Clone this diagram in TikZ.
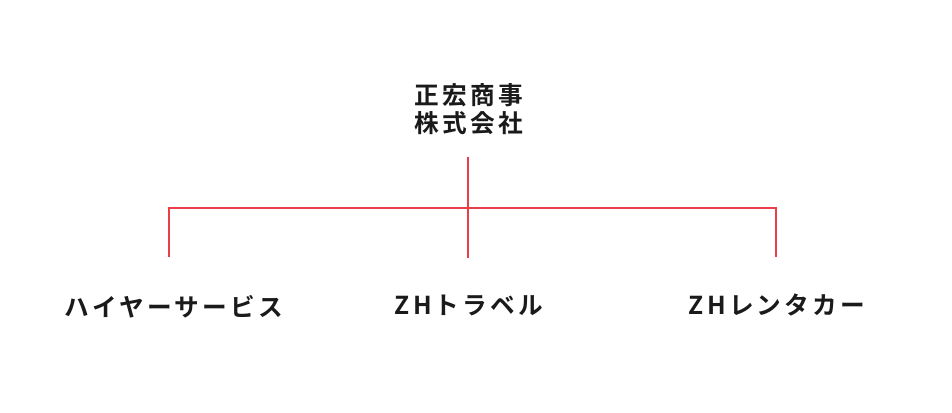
\documentclass[tikz,border=0pt]{standalone}
\usepackage{fontspec}
\setmainfont{Noto Sans CJK JP}[BoldFont={* Bold}]
\newfontfamily\jpfont{Noto Sans CJK JP Bold}[LetterSpace=13]
\definecolor{linered}{RGB}{236,62,72}
\definecolor{txt}{RGB}{26,26,26}
\begin{document}
\begin{tikzpicture}[x=0.75pt,y=-0.75pt]
\tikzset{
  lbl/.style={inner sep=0pt, text=txt, font=\jpfont\fontsize{18.5}{20.5}\selectfont, align=center},
  conn/.style={draw=linered, line width=1.5pt}
}
\useasboundingbox (0,0) rectangle (952,413);
\node[lbl] (top) at (469,109) {正宏商事\\株式会社};
\node[lbl] (a) at (174,307) {ハイヤーサービス};
\node[lbl] (b) at (469,305) {ZHトラベル};
\node[lbl] (c) at (777,305) {ZHレンタカー};
\coordinate (t0) at (467.5,157);
\coordinate (t1) at (467.5,258);
\coordinate (hl) at (168.5,208);
\coordinate (hr) at (775.5,208);
\coordinate (al) at (168.5,257);
\coordinate (cr) at (775.5,257);
\draw[conn] (t0) -- (t1);
\draw[conn] (al) -- (hl) -- (hr) -- (cr);
\end{tikzpicture}
\end{document}
